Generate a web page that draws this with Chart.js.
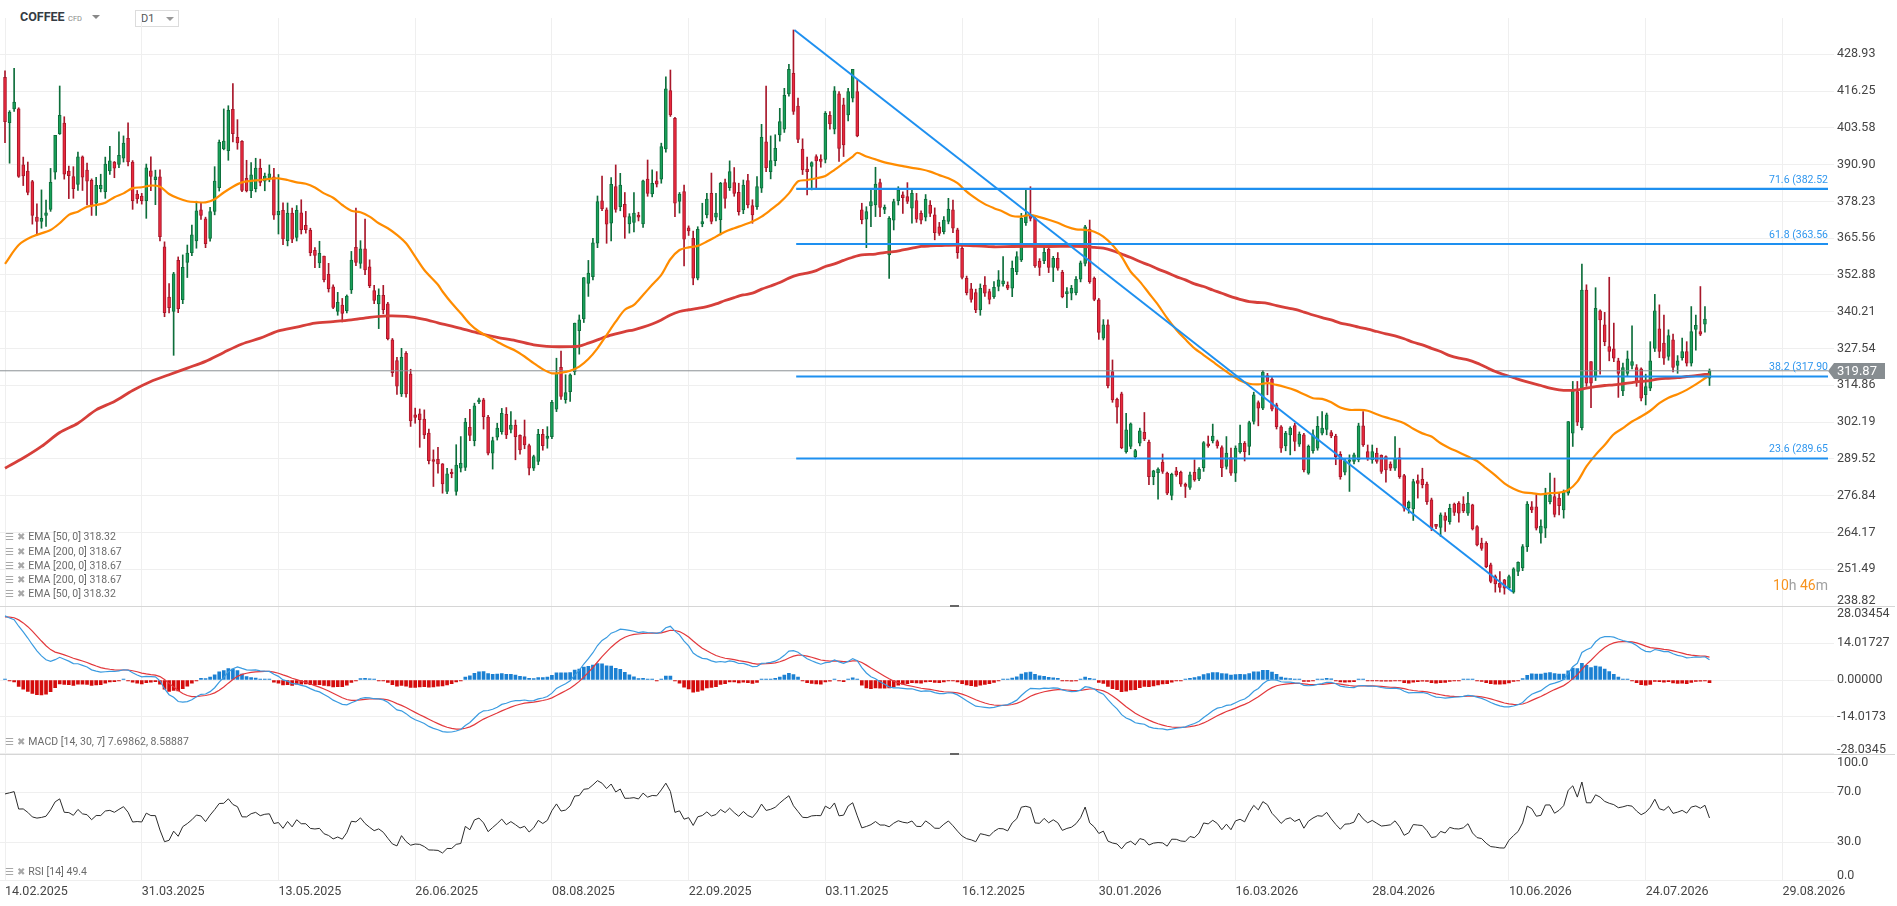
<!DOCTYPE html>
<html>
<head>
<meta charset="utf-8">
<script src="https://cdn.jsdelivr.net/npm/chart.js@4.4.1/dist/chart.umd.min.js"></script>
<style>
  html, body { margin: 0; padding: 0; background: #fff; }
  body { width: 1897px; height: 906px; position: relative; overflow: hidden; font-family: Roboto, "DejaVu Sans", sans-serif; }
  .pane { position: absolute; left: 0; width: 1897px; }
  .abs { position: absolute; white-space: nowrap; }
  .legend { position: absolute; left: 5px; font-size: 10.5px; color: #6b6b6b; white-space: nowrap; line-height: 14px; }
  .legend .ic { font-family: "DejaVu Sans"; color: #a8a8a8; font-size: 10px; margin-right: 3px; }
  .sep { position: absolute; left: 0; width: 1895px; height: 1px; background: #d6d6d6; }
  .handle { position: absolute; width: 9px; height: 2px; background: #666; }
</style>
</head>
<body>
<div class="abs" style="left:20px;top:9px;font-size:12.5px;font-weight:bold;color:#343b43;">COFFEE</div>
<div class="abs" style="left:68px;top:14px;font-size:7.5px;color:#8a8a8a;">CFD</div>
<div class="abs" style="left:92px;top:15px;width:0;height:0;border-left:4px solid transparent;border-right:4px solid transparent;border-top:4px solid #888;"></div>
<div class="abs" style="left:135px;top:10px;width:42px;height:15px;border:1px solid #dcdcdc;background:#fff;"></div>
<div class="abs" style="left:141px;top:12px;font-size:11px;color:#555;">D1</div>
<div class="abs" style="left:166px;top:17px;width:0;height:0;border-left:4px solid transparent;border-right:4px solid transparent;border-top:4px solid #999;"></div>

<div class="pane" style="top:0;height:620px;"><canvas id="mainChart"></canvas></div>
<div class="pane" style="top:596px;height:168px;"><canvas id="macdChart"></canvas></div>
<div class="pane" style="top:744px;height:162px;"><canvas id="rsiChart"></canvas></div>

<div class="sep" style="top:606px;"></div>
<div class="sep" style="top:754px;"></div>
<div class="handle" style="left:950px;top:605px;"></div>
<div class="handle" style="left:950px;top:753px;"></div>

<div class="legend" style="top:530px;"><span class="ic">☰</span><span class="ic">✖</span>EMA [50, 0] 318.32</div>
<div class="legend" style="top:545px;"><span class="ic">☰</span><span class="ic">✖</span>EMA [200, 0] 318.67</div>
<div class="legend" style="top:559px;"><span class="ic">☰</span><span class="ic">✖</span>EMA [200, 0] 318.67</div>
<div class="legend" style="top:573px;"><span class="ic">☰</span><span class="ic">✖</span>EMA [200, 0] 318.67</div>
<div class="legend" style="top:587px;"><span class="ic">☰</span><span class="ic">✖</span>EMA [50, 0] 318.32</div>
<div class="legend" style="top:735px;"><span class="ic">☰</span><span class="ic">✖</span>MACD [14, 30, 7] 7.69862, 8.58887</div>
<div class="legend" style="top:865px;"><span class="ic">☰</span><span class="ic">✖</span>RSI [14] 49.4</div>

<div class="abs" style="right:69px;top:577px;font-size:14px;color:#f7931e;">10<span style="color:#a0a0a0">h</span> 46<span style="color:#a0a0a0">m</span></div>

<script>
// daily candles, 14.02.2025 onwards
const opens = [
421.0,405.4,410.1,410.1,390.8,388.7,385.1,372.8,371.3,373.4,
375.5,388.3,401.6,405.2,388.7,386.8,384.1,393.6,389.0,385.5,
377.6,382.6,381.6,388.7,391.8,391.0,393.1,400.0,391.8,380.8,
380.1,378.5,388.8,385.7,386.7,362.6,345.3,340.3,357.9,344.4,
357.2,360.6,364.6,375.3,372.2,365.5,374.8,383.0,396.3,395.7,
410.0,400.3,398.9,386.2,381.9,382.6,389.7,385.2,386.2,386.7,
373.6,375.2,364.7,374.2,365.8,374.3,370.0,368.3,361.4,357.0,
359.4,353.1,348.8,340.3,342.5,340.6,347.7,362.4,356.9,361.9,
355.7,347.5,342.9,345.9,342.9,330.5,323.4,311.9,325.9,318.7,
304.7,305.0,303.2,298.4,289.3,289.4,287.8,278.3,284.9,278.3,
286.3,286.6,300.4,295.8,309.1,309.9,303.9,291.5,297.0,298.9,
304.9,299.7,301.2,297.6,297.2,294.1,286.3,288.6,298.0,296.6,
297.2,306.6,321.1,309.9,312.7,319.6,333.7,337.7,350.0,352.3,
363.8,378.4,375.3,370.7,383.3,376.4,377.2,370.5,371.0,373.5,
370.5,385.9,380.8,385.3,385.9,396.3,416.4,406.9,378.2,381.6,
369.1,365.5,351.8,370.5,373.6,381.0,372.8,371.9,384.7,383.0,
384.7,381.4,375.3,385.4,376.8,376.4,382.8,398.8,388.5,392.3,
401.1,403.1,415.3,422.4,411.1,396.3,389.4,390.3,393.7,392.8,
392.7,407.9,403.1,415.3,411.5,408.0,413.8,416.1,375.3,372.1,
376.7,377.0,384.7,375.5,359.8,371.8,378.5,380.5,379.9,375.9,
378.5,374.1,372.8,377.0,373.6,369.5,367.8,371.3,375.3,368.4,
362.1,351.7,348.1,346.8,340.8,349.4,347.2,345.4,348.9,349.8,
349.4,348.3,354.0,358.1,370.9,373.6,372.4,357.7,357.8,361.8,
355.5,358.6,353.8,346.4,346.6,346.8,351.4,356.9,368.7,351.7,
344.3,331.1,335.7,319.6,310.0,311.9,292.0,293.8,290.3,294.9,
298.7,295.3,283.4,284.8,288.4,284.6,276.9,285.4,284.9,280.8,
279.7,284.9,282.6,286.5,294.7,295.8,295.5,293.4,286.9,290.0,
284.6,292.0,294.9,293.8,302.4,308.9,307.0,318.2,317.0,308.1,
300.6,294.0,297.8,301.0,294.6,297.8,284.6,292.3,293.2,298.4,
299.7,298.6,297.4,291.1,284.9,288.6,288.6,289.2,300.9,292.0,
289.2,291.5,290.7,290.3,287.7,286.3,290.0,283.8,272.7,272.3,
282.0,282.5,280.8,275.4,267.0,265.9,269.9,267.9,273.9,274.3,
273.9,270.8,273.7,266.2,260.5,260.5,253.0,249.0,246.7,247.8,
245.0,243.6,250.7,251.9,259.3,273.0,273.0,263.9,265.6,274.8,
276.5,276.0,271.9,277.7,298.4,312.7,300.3,347.7,323.0,317.9,
340.5,335.7,328.2,327.4,323.3,312.9,319.0,321.7,321.0,320.5,
311.6,313.9,327.6,334.3,329.4,324.8,330.5,321.7,324.4,326.5,
322.5,334.1,333.4,335.9,317.3];
const highs = [
423.2,409.5,424.1,410.5,393.5,391.8,385.5,377.4,382.2,378.7,
389.6,401.0,418.0,407.4,390.4,390.2,395.2,393.9,391.4,386.0,
386.5,387.6,393.5,397.2,392.0,402.2,400.8,405.3,392.3,382.0,
381.0,391.1,393.6,389.0,389.1,364.3,349.9,353.8,359.1,359.8,
363.2,370.1,378.3,377.7,372.8,376.2,390.2,399.4,410.1,411.2,
418.8,406.4,399.2,392.4,391.6,393.1,392.8,388.0,390.8,389.6,
387.5,377.7,377.7,375.9,376.8,378.8,374.8,369.0,362.3,364.5,
359.4,356.9,349.5,346.9,344.8,346.0,361.0,375.9,364.7,372.1,
358.1,349.3,348.1,349.3,343.5,331.0,324.5,327.6,326.5,320.4,
307.0,306.7,306.4,299.8,292.6,293.5,287.9,286.3,286.0,294.4,
297.2,303.5,306.6,308.7,310.5,310.4,304.5,297.0,301.8,306.9,
307.2,305.8,302.9,297.8,302.9,294.6,290.8,299.7,299.7,300.6,
309.7,324.2,326.7,318.5,318.8,336.3,339.1,352.0,357.9,365.5,
380.1,387.0,376.0,386.4,390.8,387.9,381.3,374.0,381.3,374.5,
385.6,392.5,389.1,388.5,398.3,421.2,423.5,407.2,381.3,383.9,
369.8,368.0,369.5,377.6,381.0,388.0,381.0,384.8,385.9,392.2,
389.9,384.5,385.6,387.6,378.8,386.8,404.8,418.0,400.8,401.2,
410.3,417.2,425.5,437.3,413.8,399.8,393.5,391.9,394.3,394.3,
409.2,409.2,417.8,416.1,413.8,417.2,423.7,420.1,377.6,376.4,
382.2,390.0,385.9,377.0,373.0,379.0,383.3,381.5,384.7,382.5,
381.0,375.0,380.6,378.5,376.0,371.0,373.0,379.3,378.7,369.0,
363.0,352.5,350.0,348.0,349.8,352.3,348.0,350.6,354.4,359.2,
350.5,357.7,360.9,374.1,382.2,383.3,373.0,358.5,363.0,362.2,
359.3,360.6,354.5,348.5,349.3,352.3,357.7,370.0,371.8,352.2,
344.8,337.5,337.4,323.6,310.5,312.5,305.2,301.9,292.8,300.1,
305.5,296.0,285.6,286.4,291.2,285.0,284.6,286.6,285.3,281.2,
285.0,289.2,286.5,295.5,297.4,301.5,296.0,294.0,297.2,293.2,
294.0,301.2,295.5,302.5,312.5,309.5,319.9,319.0,317.5,308.7,
301.0,299.0,300.6,301.8,298.8,298.3,294.3,299.5,304.1,305.8,
305.3,299.3,298.0,292.0,289.7,290.9,291.5,301.8,305.8,294.3,
294.3,293.2,290.9,290.6,288.5,297.2,293.2,284.2,275.0,282.5,
284.0,286.3,281.5,276.0,267.0,270.9,271.0,273.9,274.3,274.8,
276.5,278.0,273.9,266.5,262.2,261.0,253.6,249.5,250.7,248.0,
249.5,252.0,254.0,260.0,274.8,274.8,277.1,268.5,279.4,284.6,
282.9,277.7,278.8,302.4,316.2,316.2,356.6,349.5,323.0,348.5,
340.9,340.0,352.1,336.3,324.2,322.5,326.7,335.4,322.0,320.9,
318.7,329.9,346.2,342.6,339.1,334.0,332.5,325.1,331.1,329.9,
342.0,339.1,348.9,342.0,320.5];
const lows = [
398.5,391.4,409.2,386.5,383.7,380.5,370.4,366.7,369.0,369.6,
374.8,385.9,401.3,385.9,379.2,379.3,382.0,382.0,377.0,373.4,
373.4,381.5,379.3,387.5,386.4,389.9,391.8,390.5,375.5,377.6,
377.3,372.4,381.9,377.1,364.6,338.5,339.8,325.2,339.9,343.0,
352.0,359.5,362.1,372.0,362.3,364.5,373.6,381.8,396.0,392.4,
398.7,396.2,381.6,381.5,379.5,381.5,383.6,381.9,385.0,372.0,
367.0,363.3,362.9,364.0,364.6,367.0,367.3,359.5,355.4,355.4,
350.5,347.0,341.3,339.0,336.7,339.8,346.5,356.1,355.2,353.0,
348.5,343.0,334.4,339.5,330.5,317.9,311.7,311.0,310.8,300.7,
301.8,293.5,296.5,287.8,280.0,284.6,277.7,277.5,283.0,277.0,
285.0,285.5,295.8,294.0,308.5,299.8,290.9,286.0,296.0,298.0,
296.5,298.5,289.2,291.1,293.0,284.0,285.5,287.5,292.5,293.2,
296.5,305.8,310.0,308.7,309.3,318.5,325.6,336.5,345.5,351.2,
362.3,375.0,363.8,364.6,374.5,375.0,365.5,367.3,367.7,371.5,
369.3,380.0,379.8,383.2,384.5,395.2,407.5,373.0,374.2,356.0,
366.5,349.5,351.2,369.5,372.5,370.5,371.5,366.7,375.9,382.0,
380.0,373.5,374.0,376.0,370.7,375.5,381.3,388.5,386.0,390.5,
399.0,402.0,414.5,408.2,398.5,387.5,380.5,382.2,382.8,390.0,
391.5,403.1,401.5,392.0,393.7,406.0,412.5,400.5,370.5,362.3,
369.5,373.0,373.0,374.0,351.7,368.4,377.0,374.1,377.5,370.7,
371.0,370.5,371.5,373.0,365.0,366.5,367.0,370.5,367.5,358.6,
351.5,346.0,343.5,339.9,339.0,345.5,342.9,344.8,347.4,349.0,
347.8,345.4,353.0,357.5,370.0,371.5,355.5,352.7,356.8,353.7,
350.6,354.5,345.0,341.6,344.3,346.0,350.5,356.0,350.0,344.0,
330.7,330.5,314.0,309.0,301.8,293.0,291.5,293.0,289.5,294.0,
295.8,280.6,280.6,275.6,284.5,277.2,275.4,283.5,280.0,276.2,
279.0,281.8,282.0,285.2,293.5,295.0,293.2,283.4,286.0,283.8,
281.7,291.5,288.8,290.9,301.5,300.9,306.5,311.6,306.0,299.8,
291.7,292.3,290.9,292.3,293.8,285.0,284.2,291.5,292.5,297.8,
297.8,296.8,287.5,282.5,284.0,278.3,287.8,288.5,293.8,289.0,
288.0,288.0,284.5,281.5,285.5,285.5,282.8,271.5,270.8,268.3,
276.0,279.5,273.8,264.8,265.5,262.8,264.5,267.0,270.0,267.7,
271.0,270.0,265.0,259.5,258.0,252.0,246.8,243.6,243.6,242.9,
244.5,243.2,249.3,251.0,257.6,271.0,265.0,260.5,262.4,274.0,
269.5,270.2,269.1,277.0,293.8,301.0,299.5,314.5,307.2,316.5,
318.7,328.5,323.3,323.0,310.7,311.3,318.0,320.5,314.5,309.5,
308.1,313.0,326.5,324.4,322.1,323.5,319.5,319.0,323.5,321.5,
321.5,327.0,332.0,333.2,314.8];
const closes = [
405.7,409.0,412.5,386.8,387.0,381.3,373.4,371.3,372.4,374.3,
384.8,401.0,407.9,387.6,387.1,382.6,393.6,386.6,385.2,377.0,
383.8,383.8,391.1,392.2,389.7,394.1,398.3,391.8,378.5,379.1,
378.5,389.8,386.8,386.7,366.1,339.9,341.6,353.3,341.3,355.5,
360.4,366.7,375.0,373.4,363.7,374.7,385.2,398.6,399.0,409.6,
401.6,398.4,382.0,381.9,387.4,389.7,384.8,387.0,387.7,373.5,
374.8,365.3,374.2,365.2,375.2,368.5,368.5,360.6,359.6,360.3,
351.3,348.2,341.7,343.5,339.6,345.6,358.0,357.2,361.9,354.6,
349.2,344.1,345.9,340.9,330.9,319.2,314.6,324.5,311.9,302.6,
303.8,303.0,297.8,288.9,288.6,287.8,280.9,284.4,284.4,287.4,
288.0,302.2,297.6,307.8,309.9,304.1,291.5,295.8,300.1,305.2,
297.8,301.2,297.2,292.6,294.3,286.3,290.3,298.0,294.1,297.4,
309.0,319.0,311.0,312.4,318.5,336.3,337.4,352.0,353.5,364.0,
378.2,375.7,370.4,384.1,375.5,383.9,372.8,373.0,374.2,372.8,
385.3,381.0,384.5,384.2,397.1,417.0,408.0,377.6,380.8,365.2,
368.1,351.8,368.6,371.3,379.0,371.3,374.2,384.5,379.3,388.5,
381.0,374.7,383.9,377.0,373.6,383.3,400.3,389.9,392.3,396.5,
405.7,414.8,423.7,409.2,399.6,389.1,388.5,391.6,392.2,392.0,
408.6,404.9,416.3,396.5,397.7,416.1,423.7,400.8,371.9,374.7,
378.2,384.2,376.2,376.2,372.4,378.2,382.2,379.5,378.2,381.0,
372.1,371.8,379.0,374.1,367.5,367.2,371.8,375.6,369.0,360.6,
352.0,346.8,344.5,340.8,348.3,346.6,344.5,348.6,351.2,350.9,
348.3,355.2,359.2,372.4,373.6,372.4,356.0,355.5,360.7,355.5,
358.6,355.2,345.4,347.2,348.3,351.4,357.1,369.5,350.6,344.5,
333.1,335.7,314.7,309.8,307.3,293.4,299.5,301.6,292.4,299.2,
296.4,283.4,285.4,286.0,285.2,277.7,284.2,284.0,280.8,280.0,
284.0,282.3,286.0,295.1,294.0,297.4,294.0,286.5,291.5,284.6,
293.2,294.9,292.0,302.0,311.6,307.0,319.4,316.2,306.6,300.6,
293.2,298.4,300.1,295.5,298.1,285.7,293.8,297.8,300.7,300.1,
304.7,297.4,290.3,283.4,288.8,289.2,290.9,300.9,294.3,289.5,
292.0,288.6,285.2,285.7,286.3,289.7,283.4,272.5,274.5,281.7,
281.1,280.6,274.8,265.6,266.2,270.2,268.3,272.5,271.1,270.8,
271.6,274.3,265.4,259.9,258.7,252.4,247.3,246.4,245.2,245.0,
249.0,251.6,253.9,259.3,273.9,271.9,265.6,266.4,277.1,277.1,
270.4,273.4,278.3,302.4,312.9,302.2,347.7,315.6,315.6,341.4,
337.4,329.9,326.5,324.2,319.0,321.0,324.0,323.0,315.9,310.4,
314.4,323.3,340.5,326.5,324.2,332.0,321.0,323.3,326.5,322.5,
333.4,335.5,332.5,337.7,319.87];

// moving averages as drawn on the picture (bar index -> value)
const ema50Bars = [0,3,6,10,12,14,16,18,20,22,24,26,28,30,32,34,36,38,40,42,44,46,48,50,52,54,56,58,60,
  62,64,66,68,70,72,74,76,78,80,82,84,86,88,90,92,95,96,98,100,102,104,106,108,110,112,114,116,118,120,
  122,124,126,128,130,132,134,136,138,140,142,144,146,148,150,152,154,156,158,160,162,164,166,168,170,
  172,174,176,178,180,182,184,186,187,189,191,193,195,197,199,201,203,205,207,209,211,213,215,217,219,
  221,223,225,227,229,231,233,235,237,239,241,243,245,247,249,251,253,255,257,259,261,263,265,267,269,
  271,273,275,277,279,281,283,285,287,289,291,293,295,297,299,301,303,305,307,309,311,313,315,317,319,
  321,323,325,327,329,331,333,335,337,339,341,343,345,347,349,351,353,355,357,359,361,363,365,367,369,
  371,373,374];
const ema50Values = [356.7,363.2,366.1,368.4,370.7,373.6,374.7,376.4,377.0,377.8,379.7,381.0,382.8,383.1,
  383.7,383.3,380.8,379.3,378.3,378.0,377.9,379.0,381.3,383.3,384.8,385.3,385.6,386.0,386.2,
  385.6,384.8,384.3,383.0,381.0,379.5,377.0,375.0,374.5,373.0,370.7,369.0,366.7,363.8,359.2,354.6,349.5,
  347.2,343.2,339.7,336.0,333.4,331.6,329.9,328.2,326.8,324.8,322.5,320.4,319.0,
  319.2,319.9,321.3,323.9,327.6,332.2,336.8,340.9,342.6,346.0,349.5,352.9,358.3,361.5,362.4,362.9,364.4,
  366.1,367.8,369.0,370.1,371.3,373.0,375.3,377.8,381.0,385.1,385.6,386.2,387.0,389.1,391.4,393.7,395.0,
  393.7,392.7,391.7,391.0,390.4,389.8,389.3,388.5,387.3,386.2,384.5,381.6,379.3,377.3,375.9,374.7,
  373.2,373.0,373.6,372.8,371.9,370.9,369.5,368.6,368.4,367.8,366.1,363.2,359.2,354.0,350.6,346.6,342.6,
  338.0,334.0,330.7,327.6,325.3,323.0,320.7,318.5,316.5,315.4,315.2,315.6,315.0,314.2,313.2,311.8,
  310.4,310.2,309.0,307.2,306.4,306.4,306.1,304.9,303.8,302.9,301.8,299.9,298.3,297.2,294.9,293.2,291.8,
  290.3,288.8,286.3,283.8,281.1,279.2,278.0,277.7,277.3,277.7,277.9,278.8,281.7,286.9,290.9,294.3,298.0,
  300.1,302.4,304.1,306.1,308.7,310.6,311.8,313.3,315.2,317.3,318.32];
const ema200Bars = [0,4,8,12,16,20,24,28,32,36,40,44,48,52,56,60,64,68,72,76,80,84,88,92,95,100,104,108,
  112,116,120,124,126,128,130,132,134,136,138,140,142,144,146,148,150,152,154,156,158,160,162,164,166,
  168,170,172,174,176,178,180,182,184,186,188,191,193,195,197,199,201,203,205,209,213,217,221,229,237,
  239,241,243,245,247,249,251,253,255,257,259,261,263,265,267,269,271,273,275,277,279,281,283,285,287,
  289,291,293,295,297,299,301,303,305,307,309,311,313,315,317,319,321,323,325,327,329,331,333,335,337,
  339,341,343,345,347,349,351,353,355,357,359,361,363,365,367,369,371,373,374];
const ema200Values = [286.3,289.8,293.8,298.6,301.8,306.4,309.3,313.1,316.2,318.5,320.8,323.1,326.2,329.1,
  331.1,333.6,334.9,336.3,336.8,337.4,338.3,338.8,338.6,337.6,336.4,334.5,332.8,331.4,
  330.3,328.8,328.2,328.2,328.4,329.4,330.5,331.7,332.6,333.4,334.0,334.9,336.0,337.4,339.1,340.3,340.9,
  341.4,342.0,342.9,344.1,345.1,346.0,346.6,348.0,349.1,350.3,351.8,352.9,353.5,354.4,355.8,356.7,357.9,
  359.0,359.8,360.1,360.6,360.9,361.5,362.1,362.7,362.9,363.0,363.2,362.9,362.6,362.7,362.7,362.7,
  362.4,362.1,361.3,360.1,358.9,357.5,356.3,354.9,353.7,352.3,351.2,349.8,348.9,347.7,346.6,345.4,
  344.5,343.7,343.4,343.1,342.3,341.6,341.0,340.1,339.1,338.2,337.4,336.3,335.7,334.9,334.2,333.4,
  332.6,331.9,330.9,329.7,328.8,327.6,326.5,325.1,324.2,323.6,322.5,321.1,319.6,318.5,317.5,316.5,315.6,
  314.8,313.9,313.3,313.1,313.3,313.9,314.4,314.8,315.0,315.4,315.8,316.2,316.5,317.1,317.3,317.5,317.9,
  318.2,318.6,318.67];

const dateLabels = ['14.02.2025','31.03.2025','13.05.2025','26.06.2025','08.08.2025','22.09.2025','03.11.2025',
                    '16.12.2025','30.01.2026','16.03.2026','28.04.2026','10.06.2026','24.07.2026','29.08.2026'];
const dateTickIdx = [0,30,60,90,120,150,180,210,240,270,300,330,360,390];
const priceTicks = [238.82,251.49,264.17,276.84,289.52,302.19,314.86,327.54,340.21,352.88,365.56,378.23,390.90,403.58,416.25,428.93];
const macdTicks = [-28.03454,-14.01727,0,14.01727,28.03454];
const macdTickLabels = ['-28.0345','-14.0173','0.00000','14.01727','28.03454'];
const rsiTicks = [0,30,70,100];
const rsiTickLabels = ['0.0','30.0','70.0','100.0'];

const fibRatios = ['71.6','61.8','38.2','23.6'];
const fibPrices = [382.52,363.56,317.90,289.65];
const fibStart = 173.6;
const trendPoints = [{x:173.2, y:437.3}, {x:330.7, y:243.8}];
const lastPrice = 319.87;

// MACD / RSI state just before the first bar
const ema14Seed = 397.0, ema30Seed = 371.5, signalSeed = 24.0;
const rsiPrevClose = 421.0, rsiGainSeed = 6.5, rsiLossSeed = 1.8;

const X_MIN = -1.1, X_MAX = 400;
const AXIS_W = 69;

function ema(values, period, seed) {
  const k = 2 / (period + 1);
  let prev = seed;
  return values.map(v => (prev = prev + k * (v - prev)));
}

function wilderRsi(values, period, prevClose, g0, l0) {
  let g = g0, l = l0, p = prevClose;
  return values.map(v => {
    const d = v - p; p = v;
    g = (g * (period - 1) + Math.max(d, 0)) / period;
    l = (l * (period - 1) + Math.max(-d, 0)) / period;
    return 100 - 100 / (1 + g / l);
  });
}

const ema14 = ema(closes, 14, ema14Seed);
const ema30 = ema(closes, 30, ema30Seed);
const macd = ema14.map((v, i) => v - ema30[i]);
const signal = ema(macd, 7, signalSeed);
const hist = macd.map((v, i) => v - signal[i]);
const rsi = wilderRsi(closes, 14, rsiPrevClose, rsiGainSeed, rsiLossSeed);

const up = closes.map((c, i) => c >= opens[i]);
const pts = arr => arr.map((v, i) => ({x: i, y: v}));
const pairs = (xs, ys) => xs.map((x, i) => ({x: x, y: ys[i]}));

Chart.defaults.font.family = 'Roboto';
Chart.defaults.animation = false;

function xAxis(showLabels) {
  return {
    type: 'linear', min: X_MIN, max: X_MAX, offset: false,
    afterBuildTicks: s => { s.ticks = dateTickIdx.map(v => ({value: v})); },
    afterFit: s => { s.height = showLabels ? 26 : 0; },
    grid: { color: '#efefef', drawTicks: false, offset: false },
    border: { display: false },
    ticks: {
      display: showLabels, align: 'start', padding: 4, maxRotation: 0, autoSkip: false,
      color: '#454545', font: { size: 12.5 },
      callback: (v, i) => dateLabels[i]
    }
  };
}

function yAxis(min, max, ticks, labels) {
  return {
    position: 'right', min: min, max: max,
    afterBuildTicks: s => { s.ticks = ticks.map(v => ({value: v})); },
    afterFit: s => { s.width = AXIS_W; },
    grid: { color: '#efefef', tickLength: 6 },
    border: { display: false },
    ticks: { padding: 3, color: '#454545', font: { size: 12.5 }, callback: (v, i) => labels[i] }
  };
}

// labels of the outermost ticks are pushed inside their panel
const edgeLabels = {
  id: 'edgeLabels',
  afterDraw(chart, args, opts) {
    const ctx = chart.ctx, y = chart.scales.y;
    ctx.save();
    ctx.font = '12.5px Roboto';
    ctx.fillStyle = '#454545';
    ctx.textBaseline = 'middle';
    ctx.textAlign = 'left';
    (opts.items || []).forEach(it => {
      ctx.fillText(it.text, chart.chartArea.right + 9, y.getPixelForValue(it.value) + it.dy);
    });
    ctx.restore();
  }
};

const priceOverlay = {
  id: 'priceOverlay',
  afterDraw(chart) {
    const ctx = chart.ctx, y = chart.scales.y, right = chart.chartArea.right;
    ctx.save();
    ctx.font = '10.5px Roboto';
    ctx.fillStyle = '#2f96ee';
    ctx.textAlign = 'right';
    ctx.textBaseline = 'middle';
    fibPrices.forEach((p, i) => {
      ctx.fillText(fibRatios[i] + ' (' + p.toFixed(2), right, y.getPixelForValue(p) - 9);
    });
    const py = Math.round(y.getPixelForValue(lastPrice));
    ctx.fillStyle = '#878d91';
    ctx.beginPath();
    ctx.moveTo(right, py);
    ctx.lineTo(right + 6, py - 8);
    ctx.lineTo(right + 57, py - 8);
    ctx.lineTo(right + 57, py + 8);
    ctx.lineTo(right + 6, py + 8);
    ctx.closePath();
    ctx.fill();
    ctx.fillStyle = '#fff';
    ctx.textAlign = 'left';
    ctx.font = '13px Roboto';
    ctx.fillText(lastPrice.toFixed(2), right + 9, py + 1);
    ctx.restore();
  }
};

const noUi = { legend: { display: false }, tooltip: { enabled: false } };

const mainDatasets = [
  {
    type: 'bar', order: 10, grouped: false, barThickness: 1,
    data: closes.map((c, i) => ({x: i, y: [lows[i], highs[i]]})),
    backgroundColor: up.map(u => u ? '#0d6e3b' : '#a8172a')
  },
  {
    type: 'bar', order: 9, grouped: false, barThickness: 3, minBarLength: 1,
    borderWidth: 1, borderSkipped: false,
    data: closes.map((c, i) => ({x: i, y: [opens[i], c]})),
    backgroundColor: up.map(u => u ? '#19a05a' : '#e8293d'),
    borderColor: up.map(u => u ? '#0d6e3b' : '#a8172a')
  },
  {
    type: 'line', order: 8, data: [{x: X_MIN, y: lastPrice}, {x: X_MAX, y: lastPrice}],
    borderColor: '#8b9094', borderWidth: 1, pointRadius: 0
  },
  {
    type: 'line', order: 5, data: pairs(ema200Bars, ema200Values),
    borderColor: '#d63f3a', borderWidth: 2.8, pointRadius: 0, tension: 0.3
  },
  {
    type: 'line', order: 4, data: pairs(ema50Bars, ema50Values),
    borderColor: '#ff8c00', borderWidth: 2.2, pointRadius: 0, tension: 0.3
  },
  {
    type: 'line', order: 2, data: trendPoints,
    borderColor: '#1e90f0', borderWidth: 2, pointRadius: 0
  }
].concat(fibPrices.map(p => ({
  type: 'line', order: 3, data: [{x: fibStart, y: p}, {x: X_MAX, y: p}],
  borderColor: '#1e90f0', borderWidth: 2.2, pointRadius: 0
})));

new Chart(document.getElementById('mainChart'), {
  type: 'bar',
  data: { datasets: mainDatasets },
  options: {
    responsive: true, maintainAspectRatio: false, events: [],
    layout: { padding: { top: 18, bottom: 14, left: 0, right: 0 } },
    scales: {
      x: xAxis(false),
      y: yAxis(238.82, 441.43, priceTicks, priceTicks.map((v, i) => i === 0 ? '' : v.toFixed(2)))
    },
    plugins: Object.assign({}, noUi, {
      edgeLabels: { items: [{value: 238.82, text: '238.82', dy: -5}] }
    })
  },
  plugins: [edgeLabels, priceOverlay]
});

new Chart(document.getElementById('macdChart'), {
  type: 'bar',
  data: {
    datasets: [
      {
        type: 'bar', order: 3, grouped: false, barThickness: 3, minBarLength: 1,
        data: pts(hist),
        backgroundColor: hist.map(h => h >= 0 ? '#1b80d2' : '#d40c0c')
      },
      {
        type: 'line', order: 2, data: pts(signal),
        borderColor: '#e2383c', borderWidth: 1.2, pointRadius: 0
      },
      {
        type: 'line', order: 1, data: pts(macd),
        borderColor: '#3a9be0', borderWidth: 1.2, pointRadius: 0
      }
    ]
  },
  options: {
    responsive: true, maintainAspectRatio: false, events: [],
    layout: { padding: { top: 10, bottom: 10, left: 0, right: 0 } },
    scales: {
      x: xAxis(false),
      y: yAxis(-28.03454, 28.03454, macdTicks, macdTickLabels.map((t, i) => (i === 0 || i === 4) ? '' : t))
    },
    plugins: Object.assign({}, noUi, {
      edgeLabels: { items: [
        {value: 28.03454, text: '28.03454', dy: 7},
        {value: -28.03454, text: '-28.0345', dy: -4}
      ] }
    })
  },
  plugins: [edgeLabels]
});

new Chart(document.getElementById('rsiChart'), {
  type: 'line',
  data: {
    datasets: [{
      data: pts(rsi), borderColor: '#2b2b2b', borderWidth: 1, pointRadius: 0, tension: 0
    }]
  },
  options: {
    responsive: true, maintainAspectRatio: false, events: [],
    layout: { padding: { top: 10, bottom: 0, left: 0, right: 0 } },
    scales: {
      x: xAxis(true),
      y: yAxis(0, 100, rsiTicks, rsiTickLabels.map((t, i) => (i === 0 || i === 3) ? '' : t))
    },
    plugins: Object.assign({}, noUi, {
      edgeLabels: { items: [
        {value: 100, text: '100.0', dy: 8},
        {value: 0, text: '0.0', dy: -4}
      ] }
    })
  },
  plugins: [edgeLabels]
});
</script>
</body>
</html>
